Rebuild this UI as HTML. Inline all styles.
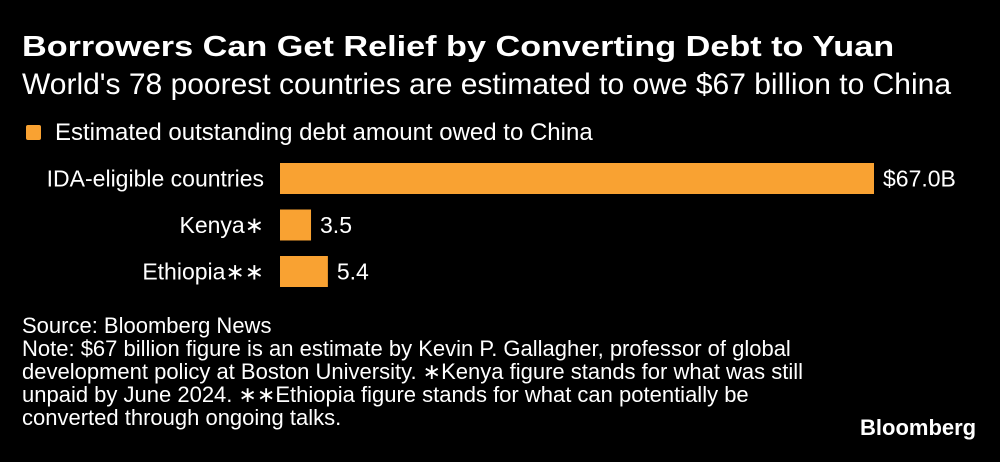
<!DOCTYPE html>
<html><head><meta charset="utf-8"><style>
body{margin:0;width:1000px;height:462px;background:#000;color:#fff;font-family:"Liberation Sans","DejaVu Sans",sans-serif;overflow:hidden;position:relative}
.t{position:absolute;white-space:nowrap}
</style></head><body>
<div class="t" style="left:22px;top:31px;font-size:29px;font-weight:bold;transform:scaleX(1.18);transform-origin:left top">Borrowers Can Get Relief by Converting Debt to Yuan</div>
<div class="t" style="left:22px;top:68px;font-size:30px">World's 78 poorest countries are estimated to owe $67 billion to China</div>
<div class="t" style="left:26px;top:119px;font-size:24px"><span style="display:inline-block;width:15px;height:15px;background:#f9a232;border-radius:2px;margin-right:14px;vertical-align:0px"></span>Estimated outstanding debt amount owed to China</div>
<svg id="chart" width="1000" height="462" style="position:absolute;left:0;top:0"></svg>
<div class="t" style="left:22px;top:314px;font-size:22px;line-height:23px">Source: Bloomberg News<br>Note: $67 billion figure is an estimate by Kevin P. Gallagher, professor of global<br>development policy at Boston University. ∗Kenya figure stands for what was still<br>unpaid by June 2024. ∗∗Ethiopia figure stands for what can potentially be<br>converted through ongoing talks.</div>
<div class="t" style="left:860px;top:415px;font-size:22px;font-weight:bold">Bloomberg</div>
<script>
const categories=["IDA-eligible countries","Kenya∗","Ethiopia∗∗"];
const values=[67.0,3.5,5.4];
const valueLabels=["$67.0B","3.5","5.4"];
const svg=document.getElementById('chart');
const NS='http://www.w3.org/2000/svg';
const x0=280, xScale=v=>x0+v*(594/67);
const yBand=i=>163+i*46.5, bh=31;
categories.forEach((c,i)=>{
  const y=yBand(i);
  const r=document.createElementNS(NS,'rect');
  
  
  r.setAttribute('x',x0);r.setAttribute('y',y);
  r.setAttribute('width',xScale(values[i])-x0);r.setAttribute('height',bh);
  r.setAttribute('fill','#f9a232');svg.appendChild(r);
  const l=document.createElementNS(NS,'text');
  
  
  l.setAttribute('x',264);l.setAttribute('y',y+bh/2+8);
  l.setAttribute('text-anchor','end');l.setAttribute('fill','#fff');
  l.setAttribute('font-size','23');l.textContent=c;svg.appendChild(l);
  const v=document.createElementNS(NS,'text');
  
  
  v.setAttribute('x',xScale(values[i])+9);v.setAttribute('y',y+bh/2+8);
  v.setAttribute('fill','#fff');v.setAttribute('font-size','23');
  v.textContent=valueLabels[i];svg.appendChild(v);
});
</script>
</body></html>
